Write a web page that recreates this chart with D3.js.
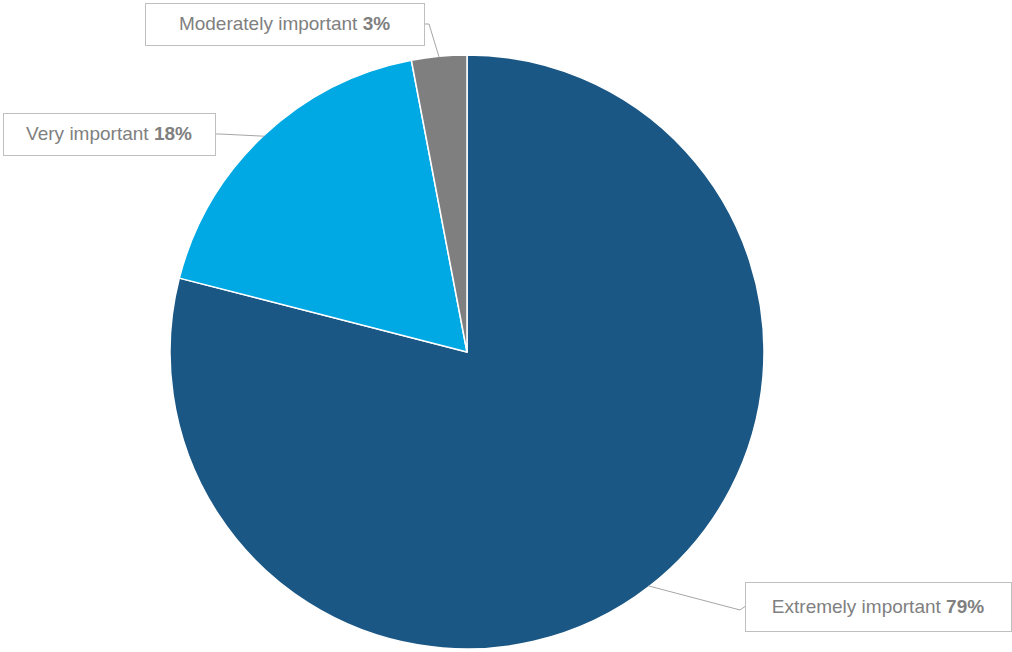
<!DOCTYPE html>
<html>
<head>
<meta charset="utf-8">
<script src="https://cdn.jsdelivr.net/npm/d3@7"></script>
<style>
  html, body { margin: 0; padding: 0; background: #fff; }
  svg { display: block; }
  text { font-family: "Liberation Sans", Arial, sans-serif; }
</style>
</head>
<body>
<svg id="chart" width="1012" height="652"></svg>
<script>
// Survey responses: importance rating shares (%)
const categories = ["Extremely important", "Very important", "Moderately important"];
const values = [79, 18, 3];
const colors = ["#1B5784", "#00A9E3", "#7F7F7F"];

// Callout box layout per slice: box rectangle and the elbow of the leader line
const callouts = [
  { x: 745, y: 582, w: 266, h: 49, elbow: [740, 610], side: "left" },
  { x: 3,   y: 113, w: 212, h: 42, elbow: [220, 134], side: "right" },
  { x: 145, y: 3,   w: 279, h: 42, elbow: [429, 24], side: "right" }
];

const svg = d3.select("#chart");
const cx = 467, cy = 352, r = 297;

const pie = d3.pie().sort(null).value(d => d)(values);
const arc = d3.arc().innerRadius(0).outerRadius(r);

const g = svg.append("g").attr("transform", `translate(${cx},${cy})`);

g.selectAll("path.slice")
  .data(pie)
  .join("path")
  .attr("class", "slice")
  .attr("d", arc)
  .attr("fill", (d, i) => colors[i])
  .attr("stroke", "#fff")
  .attr("stroke-width", 1.5)
  .attr("stroke-linejoin", "round");

// Leader lines from slice edge to the callout boxes
pie.forEach((d, i) => {
  const c = callouts[i];
  const mid = (d.startAngle + d.endAngle) / 2;
  const px = cx + Math.sin(mid) * (r - 1);
  const py = cy - Math.cos(mid) * (r - 1);
  const bx = c.side === "left" ? c.x : c.x + c.w;
  const by = c.y + c.h / 2;
  svg.append("polyline")
    .attr("points", [[px, py], c.elbow, [bx, by]].map(p => p.join(",")).join(" "))
    .attr("fill", "none")
    .attr("stroke", "#A6A6A6")
    .attr("stroke-width", 1);
});

// Callout boxes with labels
pie.forEach((d, i) => {
  const c = callouts[i];
  svg.append("rect")
    .attr("x", c.x + 0.5).attr("y", c.y + 0.5)
    .attr("width", c.w).attr("height", c.h)
    .attr("fill", "#fff")
    .attr("stroke", "#BFBFBF")
    .attr("stroke-width", 1);
  const t = svg.append("text")
    .attr("x", c.x + c.w / 2)
    .attr("y", c.y + c.h / 2 + 1)
    .attr("text-anchor", "middle")
    .attr("dominant-baseline", "middle")
    .attr("font-size", 19)
    .attr("fill", "#808080");
  t.append("tspan").text(categories[i] + " ");
  t.append("tspan").attr("font-weight", "bold").text(values[i] + "%");
});
</script>
</body>
</html>
